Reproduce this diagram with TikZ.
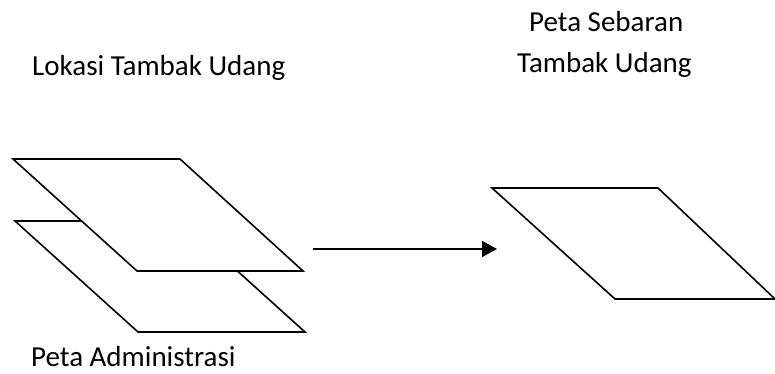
\documentclass[tikz,border=0pt]{standalone}
\usepackage{fontspec}
\setmainfont{Carlito}
\usetikzlibrary{arrows.meta}
\tikzset{
  sheet/.style={draw=black, line width=1.6pt, line join=miter, fill=white},
  label/.style={inner sep=0pt, font=\fontsize{29}{40}\selectfont},
  flow/.style={line width=1.6pt, -{Triangle[length=15pt,width=16pt]}}
}
\begin{document}
\begin{tikzpicture}[x=1pt,y=-1pt]
\useasboundingbox (0,0) rectangle (775,374);
\clip (0,0) rectangle (775,374);
% back sheet
\coordinate (b1) at (15,221);
\coordinate (b2) at (182,221);
\coordinate (b3) at (305,332);
\coordinate (b4) at (138,332);
\draw[sheet] (b1) -- (b2) -- (b3) -- (b4) -- cycle;
% front sheet
\coordinate (f1) at (13,159);
\coordinate (f2) at (180,159);
\coordinate (f3) at (303,271);
\coordinate (f4) at (137,271);
\draw[sheet] (f1) -- (f2) -- (f3) -- (f4) -- cycle;
% result sheet
\coordinate (r1) at (492,188);
\coordinate (r2) at (658,188);
\coordinate (r3) at (775,299);
\coordinate (r4) at (615,299);
\draw[sheet] (r1) -- (r2) -- (r3) -- (r4) -- cycle;
% arrow
\coordinate (a1) at (313,249);
\coordinate (a2) at (497,249);
\draw[flow] (a1) -- (a2);
% labels
\node[label, anchor=base west] (lok) at (32,76) {Lokasi Tambak Udang};
\node[label, anchor=base west] (ps1) at (529,32) {Peta Sebaran};
\node[label, anchor=base west] (ps2) at (517,73) {Tambak Udang};
\node[label, anchor=base west] (adm) at (31,366) {Peta Administrasi};
\end{tikzpicture}
\end{document}
